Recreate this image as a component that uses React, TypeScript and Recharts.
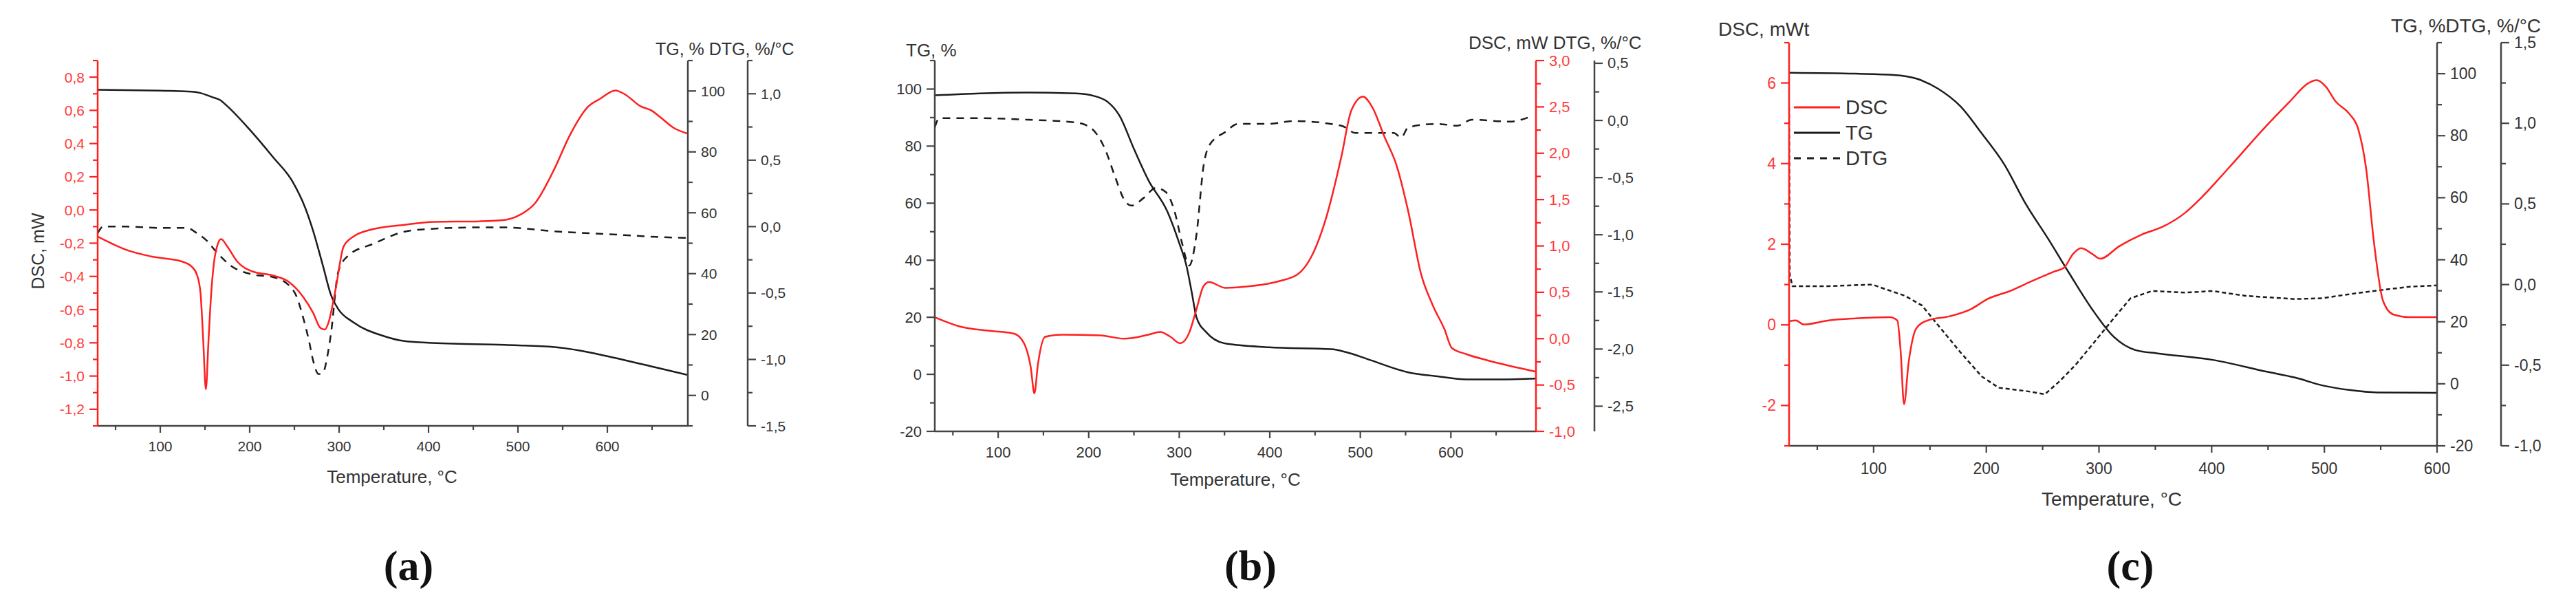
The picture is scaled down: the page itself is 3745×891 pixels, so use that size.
import React from 'react';
import { ComposedChart, Line, XAxis, YAxis } from 'recharts';

// ---------- Panel (a) data ----------
const A_TG_T = [30, 60, 100, 135, 144, 158, 167, 175, 200, 226, 248, 262, 271, 282, 291, 299, 316, 350, 372, 400, 485, 541, 570, 598, 654, 690];
const A_TG = [100.4, 100.3, 100.1, 99.8, 99.4, 98.0, 97.0, 95.0, 87.3, 78.3, 70.2, 61.7, 54, 42.5, 32.9, 28.4, 24, 19.5, 17.9, 17.3, 16.6, 15.9, 14.7, 13, 9.2, 6.7];
const A_DSC_T = [30, 45, 62, 90, 124, 135, 141, 145, 148, 151, 154, 157, 160, 164, 168, 175, 186, 203, 226, 243, 260, 271, 279, 284, 288, 296, 305, 316, 338, 372, 406, 457, 485, 502, 519, 541, 558, 578, 592, 609, 620, 637, 649, 660, 674, 690];
const A_DSC = [-0.16, -0.2, -0.24, -0.28, -0.31, -0.34, -0.39, -0.5, -0.78, -1.08, -0.78, -0.5, -0.32, -0.21, -0.175, -0.22, -0.31, -0.37, -0.395, -0.43, -0.525, -0.62, -0.71, -0.72, -0.68, -0.48, -0.22, -0.16, -0.115, -0.09, -0.072, -0.068, -0.06, -0.03, 0.04, 0.25, 0.45, 0.62, 0.67, 0.72, 0.695, 0.625, 0.6, 0.555, 0.495, 0.46];
const A_DTG_T = [30, 36, 62, 100, 130, 141, 151, 164, 180, 203, 226, 245, 252, 260, 266, 271, 277, 282, 287, 291, 299, 310, 338, 372, 400, 457, 485, 541, 598, 654, 690];
const A_DTG = [-0.05, 0.0, 0.0, -0.01, -0.01, -0.05, -0.1, -0.2, -0.3, -0.36, -0.38, -0.45, -0.52, -0.69, -0.85, -1.01, -1.11, -1.1, -0.97, -0.8, -0.34, -0.22, -0.13, -0.04, -0.018, -0.006, -0.006, -0.036, -0.056, -0.077, -0.086];

// ---------- Panel (b) data ----------
const B_TG_T = [30, 80, 133, 186, 207, 221, 234, 250, 266, 287, 300, 308, 314, 319, 330, 351, 399, 468, 484, 511, 553, 585, 617, 654, 694];
const B_TG = [97.8, 98.5, 98.8, 98.5, 97.5, 95.5, 90.7, 79, 68, 57, 46, 38, 28.4, 20, 14.7, 10.8, 9.5, 8.8, 7.8, 5, 0.7, -0.7, -1.8, -1.8, -1.5];
const B_DSC_T = [30, 58, 90, 117, 128, 136, 140, 144, 152, 170, 213, 239, 266, 279, 290, 301, 311, 319, 327, 333, 351, 372, 410, 431, 447, 463, 479, 490, 503, 513, 527, 540, 553, 567, 580, 593, 601, 617, 639, 665, 694];
const B_DSC = [0.23, 0.13, 0.085, 0.056, -0.04, -0.31, -0.59, -0.27, 0.02, 0.043, 0.035, 0.0, 0.043, 0.073, 0.022, -0.05, 0.064, 0.317, 0.57, 0.61, 0.548, 0.56, 0.62, 0.695, 0.905, 1.33, 1.96, 2.46, 2.61, 2.5, 2.17, 1.87, 1.37, 0.7, 0.36, 0.1, -0.1, -0.167, -0.23, -0.293, -0.356];
const B_DTG_T = [30, 35, 80, 133, 186, 202, 218, 229, 239, 247, 261, 274, 285, 295, 303, 311, 319, 327, 333, 351, 365, 399, 426, 479, 495, 521, 537, 545, 553, 585, 607, 623, 665, 690];
const B_DTG = [-0.06, 0.02, 0.02, 0.006, -0.018, -0.063, -0.25, -0.49, -0.69, -0.745, -0.676, -0.59, -0.625, -0.8, -1.07, -1.27, -1.0, -0.39, -0.22, -0.1, -0.03, -0.03, -0.005, -0.046, -0.11, -0.11, -0.11, -0.15, -0.06, -0.03, -0.046, 0.006, -0.01, 0.04];

// ---------- Panel (c) data ----------
const C_TG_T = [25, 84, 118, 138, 157, 177, 196, 216, 235, 255, 274, 294, 313, 333, 352, 401, 449, 474, 498, 522, 547, 600];
const C_TG = [100.3, 100, 99.6, 98.4, 95.2, 89.5, 80.7, 70.7, 58, 46.7, 35.4, 24, 15.2, 10.8, 9.8, 7.7, 3.9, 2, -0.5, -2, -2.8, -2.9];
const C_DSC_T = [25, 31, 38, 60, 84, 114, 121, 124, 127, 131, 138, 148, 167, 187, 201, 221, 240, 260, 269, 277, 284, 294, 301, 318, 338, 357, 376, 391, 415, 449, 469, 486, 493, 501, 510, 522, 530, 537, 544, 552, 561, 576, 600];
const C_DSC = [0.09, 0.11, 0.01, 0.11, 0.16, 0.19, 0.11, -0.66, -1.97, -0.95, -0.08, 0.11, 0.21, 0.4, 0.64, 0.84, 1.08, 1.32, 1.42, 1.76, 1.9, 1.76, 1.64, 1.95, 2.24, 2.44, 2.77, 3.16, 3.89, 4.95, 5.53, 6.0, 6.07, 5.92, 5.54, 5.24, 4.86, 3.89, 2.05, 0.6, 0.26, 0.19, 0.19];
const C_DTG_T = [25, 25.6, 28, 60, 99, 109, 128, 143, 157, 177, 196, 211, 235, 252, 265, 279, 299, 313, 328, 347, 376, 401, 430, 474, 498, 522, 547, 576, 600];
const C_DTG = [1.1, 0.06, -0.01, -0.01, 0.0, -0.025, -0.07, -0.13, -0.25, -0.42, -0.57, -0.64, -0.66, -0.68, -0.6, -0.5, -0.33, -0.21, -0.085, -0.04, -0.05, -0.04, -0.07, -0.09, -0.085, -0.06, -0.037, -0.013, -0.005];

// ---------- Tick lists ----------
const X_TICKS_AB = [50, 100, 150, 200, 250, 300, 350, 400, 450, 500, 550, 600, 650];
const X_TICKS_C = [50, 100, 150, 200, 250, 300, 350, 400, 450, 500, 550, 600];
const X_MAJOR = [100, 200, 300, 400, 500, 600];

const A_DSC_TICKS = [-1.3, -1.2, -1.1, -1.0, -0.9, -0.8, -0.7, -0.6, -0.5, -0.4, -0.3, -0.2, -0.1, 0.0, 0.1, 0.2, 0.3, 0.4, 0.5, 0.6, 0.7, 0.8, 0.9];
const A_DSC_MAJOR = [-1.2, -1.0, -0.8, -0.6, -0.4, -0.2, 0.0, 0.2, 0.4, 0.6, 0.8];
const A_TG_TICKS = [-10, 0, 10, 20, 30, 40, 50, 60, 70, 80, 90, 100, 110];
const A_TG_MAJOR = [0, 20, 40, 60, 80, 100];
const A_DTG_TICKS = [-1.5, -1.25, -1.0, -0.75, -0.5, -0.25, 0.0, 0.25, 0.5, 0.75, 1.0, 1.25];
const A_DTG_MAJOR = [-1.5, -1.0, -0.5, 0.0, 0.5, 1.0];

const B_TG_TICKS = [-20, -10, 0, 10, 20, 30, 40, 50, 60, 70, 80, 90, 100, 110];
const B_TG_MAJOR = [-20, 0, 20, 40, 60, 80, 100];
const B_DSC_TICKS = [-1.0, -0.75, -0.5, -0.25, 0.0, 0.25, 0.5, 0.75, 1.0, 1.25, 1.5, 1.75, 2.0, 2.25, 2.5, 2.75, 3.0];
const B_DSC_MAJOR = [-1.0, -0.5, 0.0, 0.5, 1.0, 1.5, 2.0, 2.5, 3.0];
const B_DTG_TICKS = [-2.5, -2.25, -2.0, -1.75, -1.5, -1.25, -1.0, -0.75, -0.5, -0.25, 0.0, 0.25, 0.5];
const B_DTG_MAJOR = [-2.5, -2.0, -1.5, -1.0, -0.5, 0.0, 0.5];

const C_DSC_TICKS = [-3, -2, -1, 0, 1, 2, 3, 4, 5, 6, 7];
const C_DSC_MAJOR = [-2, 0, 2, 4, 6];
const C_TG_TICKS = [-20, -10, 0, 10, 20, 30, 40, 50, 60, 70, 80, 90, 100, 110];
const C_TG_MAJOR = [-20, 0, 20, 40, 60, 80, 100];
const C_DTG_TICKS = [-1.0, -0.75, -0.5, -0.25, 0.0, 0.25, 0.5, 0.75, 1.0, 1.25, 1.5];
const C_DTG_MAJOR = [-1.0, -0.5, 0.0, 0.5, 1.0, 1.5];

// ---------- styling ----------
const FONT = '"Liberation Sans", Arial, Helvetica, sans-serif';
const RED = '#ff1f1f';
const RED_TXT = '#ff3b3b';
const BLACK = '#1c1c1c';
const GRAY = '#444444';
const TXT = '#333333';

const pts = (ts: number[], vs: number[]) => ts.map((t, i) => ({ t, v: vs[i] }));
const dec1 = (v: number) => v.toFixed(1).replace('.', ',');
const int0 = (v: number) => String(Math.round(v));

function makeTick(side: 'left' | 'right' | 'bottom', majors: number[], fmt: (v: number) => string,
  lineColor: string, textColor: string, fontSize: number, gap = 7, majorLen = 12, minorLen = 7) {
  return (props: any) => {
    const { x, y, payload } = props;
    const v = payload.value as number;
    const isMajor = majors.some((m) => Math.abs(m - v) < 1e-6);
    const len = isMajor ? majorLen : minorLen;
    if (side === 'left') {
      return (
        <g>
          <line x1={x - len} x2={x} y1={y} y2={y} stroke={lineColor} strokeWidth={2.2} />
          {isMajor && (
            <text x={x - len - gap} y={y} textAnchor="end" dominantBaseline="central" fontSize={fontSize} fontFamily={FONT} fill={textColor}>{fmt(v)}</text>
          )}
        </g>
      );
    }
    if (side === 'right') {
      return (
        <g>
          <line x1={x} x2={x + len} y1={y} y2={y} stroke={lineColor} strokeWidth={2.2} />
          {isMajor && (
            <text x={x + len + gap} y={y} textAnchor="start" dominantBaseline="central" fontSize={fontSize} fontFamily={FONT} fill={textColor}>{fmt(v)}</text>
          )}
        </g>
      );
    }
    return (
      <g>
        <line x1={x} x2={x} y1={y} y2={y + (isMajor ? 10 : 6)} stroke={lineColor} strokeWidth={2.2} />
        {isMajor && (
          <text x={x} y={y + gap} textAnchor="middle" dominantBaseline="central" fontSize={fontSize} fontFamily={FONT} fill={textColor}>{fmt(v)}</text>
        )}
      </g>
    );
  };
}

const abs = (left: number, top: number, extra: React.CSSProperties = {}): React.CSSProperties => ({
  position: 'absolute', left, top, whiteSpace: 'nowrap', fontFamily: FONT, color: TXT, lineHeight: 1, ...extra,
});

const centered = (cx: number, cy: number, extra: React.CSSProperties = {}, rot = 0): React.CSSProperties => ({
  ...abs(cx, cy, extra), transform: `translate(-50%, -50%) rotate(${rot}deg)`,
});

const panelLabel = (cx: number, text: string) => (
  <div style={centered(cx, 822, { fontFamily: '"Liberation Serif", "DejaVu Serif", serif', fontWeight: 700, fontSize: 62, color: '#111' })}>{text}</div>
);

// Y axis ids: "L" = left axis, "R1" = right axis next to the plot, "R2" = outer right axis
function PanelA() {
  return (
    <div style={{ position: 'absolute', left: 0, top: 0 }}>
      <ComposedChart width={1250} height={891} margin={{ top: 88, left: 42, right: 63, bottom: 222 }}>
        <XAxis xAxisId="x" dataKey="t" type="number" domain={[30, 690]} ticks={X_TICKS_AB} interval={0} allowDataOverflow
          height={50} tickSize={0} tickMargin={0} tickLine={false} axisLine={{ stroke: GRAY, strokeWidth: 2.5 }}
          tick={makeTick('bottom', X_MAJOR, int0, GRAY, TXT, 21, 29)} />
        <YAxis yAxisId="L" orientation="left" type="number" domain={[-1.3, 0.9]} ticks={A_DSC_TICKS} interval={0} allowDataOverflow
          width={100} tickSize={0} tickMargin={0} tickLine={false} axisLine={{ stroke: RED, strokeWidth: 2.5 }}
          tick={makeTick('left', A_DSC_MAJOR, dec1, RED, RED_TXT, 21)} />
        <YAxis yAxisId="R1" orientation="right" type="number" domain={[-10, 110]} ticks={A_TG_TICKS} interval={0} allowDataOverflow
          width={87} tickSize={0} tickMargin={0} tickLine={false} axisLine={{ stroke: GRAY, strokeWidth: 2.5 }}
          tick={makeTick('right', A_TG_MAJOR, int0, GRAY, TXT, 21)} />
        <YAxis yAxisId="R2" orientation="right" type="number" domain={[-1.5, 1.25]} ticks={A_DTG_TICKS} interval={0} allowDataOverflow
          width={100} tickSize={0} tickMargin={0} tickLine={false} axisLine={{ stroke: GRAY, strokeWidth: 2.5 }}
          tick={makeTick('right', A_DTG_MAJOR, dec1, GRAY, TXT, 21)} />
        <Line xAxisId="x" yAxisId="R1" data={pts(A_TG_T, A_TG)} dataKey="v" type="monotone" stroke={BLACK} strokeWidth={2.5} dot={false} isAnimationActive={false} />
        <Line xAxisId="x" yAxisId="R2" data={pts(A_DTG_T, A_DTG)} dataKey="v" type="monotone" stroke={BLACK} strokeWidth={2.5} strokeDasharray="11 9" dot={false} isAnimationActive={false} />
        <Line xAxisId="x" yAxisId="L" data={pts(A_DSC_T, A_DSC)} dataKey="v" type="monotone" stroke={RED} strokeWidth={2.5} dot={false} isAnimationActive={false} />
      </ComposedChart>
    </div>
  );
}

function PanelB() {
  return (
    <div style={{ position: 'absolute', left: 1250, top: 0 }}>
      <ComposedChart width={1250} height={891} margin={{ top: 88, left: 9, right: 82, bottom: 214 }}>
        <XAxis xAxisId="x" dataKey="t" type="number" domain={[30, 694]} ticks={X_TICKS_AB} interval={0} allowDataOverflow
          height={50} tickSize={0} tickMargin={0} tickLine={false} axisLine={{ stroke: GRAY, strokeWidth: 2.5 }}
          tick={makeTick('bottom', X_MAJOR, int0, GRAY, TXT, 22, 30)} />
        <YAxis yAxisId="L" orientation="left" type="number" domain={[-20, 110]} ticks={B_TG_TICKS} interval={0} allowDataOverflow
          width={100} tickSize={0} tickMargin={0} tickLine={false} axisLine={{ stroke: GRAY, strokeWidth: 2.5 }}
          tick={makeTick('left', B_TG_MAJOR, int0, GRAY, TXT, 22)} />
        <YAxis yAxisId="R1" orientation="right" type="number" domain={[-1, 3]} ticks={B_DSC_TICKS} interval={0} allowDataOverflow
          width={85} tickSize={0} tickMargin={0} tickLine={false} axisLine={{ stroke: RED, strokeWidth: 2.5 }}
          tick={makeTick('right', B_DSC_MAJOR, dec1, RED, RED_TXT, 22)} />
        <YAxis yAxisId="R2" orientation="right" type="number" domain={[-2.72, 0.524]} ticks={B_DTG_TICKS} interval={0} allowDataOverflow
          width={100} tickSize={0} tickMargin={0} tickLine={false} axisLine={{ stroke: GRAY, strokeWidth: 2.5 }}
          tick={makeTick('right', B_DTG_MAJOR, dec1, GRAY, TXT, 22)} />
        <Line xAxisId="x" yAxisId="L" data={pts(B_TG_T, B_TG)} dataKey="v" type="monotone" stroke={BLACK} strokeWidth={2.5} dot={false} isAnimationActive={false} />
        <Line xAxisId="x" yAxisId="R2" data={pts(B_DTG_T, B_DTG)} dataKey="v" type="monotone" stroke={BLACK} strokeWidth={2.5} strokeDasharray="11 9" dot={false} isAnimationActive={false} />
        <Line xAxisId="x" yAxisId="R1" data={pts(B_DSC_T, B_DSC)} dataKey="v" type="monotone" stroke={RED} strokeWidth={2.5} dot={false} isAnimationActive={false} />
      </ComposedChart>
    </div>
  );
}

function PanelC() {
  return (
    <div style={{ position: 'absolute', left: 2490, top: 0 }}>
      <ComposedChart width={1255} height={891} margin={{ top: 62, left: 11, right: 9, bottom: 193 }}>
        <XAxis xAxisId="x" dataKey="t" type="number" domain={[25, 600]} ticks={X_TICKS_C} interval={0} allowDataOverflow
          height={50} tickSize={0} tickMargin={0} tickLine={false} axisLine={{ stroke: GRAY, strokeWidth: 2.5 }}
          tick={makeTick('bottom', X_MAJOR, int0, GRAY, TXT, 23, 33)} />
        <YAxis yAxisId="L" orientation="left" type="number" domain={[-3, 7]} ticks={C_DSC_TICKS} interval={0} allowDataOverflow
          width={100} tickSize={0} tickMargin={0} tickLine={false} axisLine={{ stroke: RED, strokeWidth: 2.5 }}
          tick={makeTick('left', C_DSC_MAJOR, int0, RED, RED_TXT, 23)} />
        <YAxis yAxisId="R1" orientation="right" type="number" domain={[-20, 110]} ticks={C_TG_TICKS} interval={0} allowDataOverflow
          width={93} tickSize={0} tickMargin={0} tickLine={false} axisLine={{ stroke: GRAY, strokeWidth: 2.5 }}
          tick={makeTick('right', C_TG_MAJOR, int0, GRAY, TXT, 23)} />
        <YAxis yAxisId="R2" orientation="right" type="number" domain={[-1, 1.5]} ticks={C_DTG_TICKS} interval={0} allowDataOverflow
          width={100} tickSize={0} tickMargin={0} tickLine={false} axisLine={{ stroke: GRAY, strokeWidth: 2.5 }}
          tick={makeTick('right', C_DTG_MAJOR, dec1, GRAY, TXT, 23)} />
        <Line xAxisId="x" yAxisId="R1" data={pts(C_TG_T, C_TG)} dataKey="v" type="monotone" stroke={BLACK} strokeWidth={2.5} dot={false} isAnimationActive={false} />
        <Line xAxisId="x" yAxisId="R2" data={pts(C_DTG_T, C_DTG)} dataKey="v" type="linear" stroke={BLACK} strokeWidth={2.5} strokeDasharray="6 4" dot={false} isAnimationActive={false} />
        <Line xAxisId="x" yAxisId="L" data={pts(C_DSC_T, C_DSC)} dataKey="v" type="monotone" stroke={RED} strokeWidth={2.5} dot={false} isAnimationActive={false} />
      </ComposedChart>
    </div>
  );
}

const LEGEND = [
  { name: 'DSC', color: RED, dash: undefined as string | undefined },
  { name: 'TG', color: BLACK, dash: undefined as string | undefined },
  { name: 'DTG', color: BLACK, dash: '10 9' },
];

export default function App() {
  return (
    <div style={{ position: 'relative', width: 3745, height: 891, overflow: 'hidden', background: '#fff' }}>
      <style>{'body{margin:0}'}</style>
      <PanelA />
      <PanelB />
      <PanelC />

      {/* Panel (a) texts */}
      <div style={centered(55, 365, { fontSize: 25 }, -90)}>DSC, mW</div>
      <div style={abs(953, 59, { fontSize: 25 })}>TG, % DTG, %/°C</div>
      <div style={centered(570, 693, { fontSize: 26 })}>Temperature, °C</div>
      {panelLabel(594, '(a)')}

      {/* Panel (b) texts */}
      <div style={abs(1317, 60, { fontSize: 26 })}>TG, %</div>
      <div style={abs(2135, 49, { fontSize: 26 })}>DSC, mW DTG, %/°C</div>
      <div style={centered(1796, 697, { fontSize: 26 })}>Temperature, °C</div>
      {panelLabel(1818, '(b)')}

      {/* Panel (c) texts */}
      <div style={abs(2498, 29, { fontSize: 28 })}>DSC, mWt</div>
      <div style={abs(3476, 24, { fontSize: 28 })}>TG, %DTG, %/°C</div>
      <div style={centered(3070, 726, { fontSize: 28 })}>Temperature, °C</div>
      {panelLabel(3097, '(c)')}

      {/* Panel (c) legend */}
      {LEGEND.map((l, i) => (
        <div key={l.name} style={{ position: 'absolute', left: 2608, top: 156 + i * 37 - 15, height: 30, display: 'flex', alignItems: 'center' }}>
          <svg width={70} height={30}>
            <line x1={0} x2={67} y1={15} y2={15} stroke={l.color} strokeWidth={2.8} strokeDasharray={l.dash} />
          </svg>
          <span style={{ fontFamily: FONT, fontSize: 29, color: TXT, marginLeft: 5 }}>{l.name}</span>
        </div>
      ))}
    </div>
  );
}
